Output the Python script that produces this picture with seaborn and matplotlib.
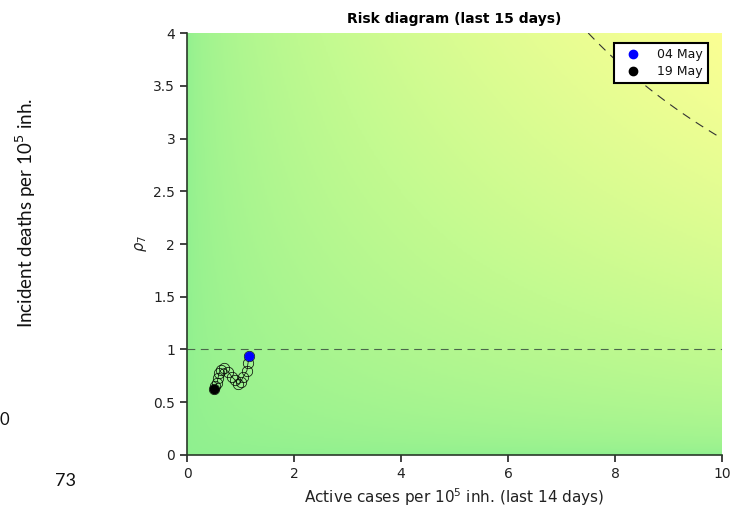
import matplotlib
matplotlib.use('Agg')
import matplotlib.pyplot as plt
import numpy as np
import pandas as pd
import seaborn as sns
from matplotlib.colors import LinearSegmentedColormap

# Trajectory over the last 15 days (04 May -> 19 May)
dates = pd.date_range('2020-05-04', '2020-05-19', freq='D')
active_cases = [1.16, 1.14, 1.12, 1.05, 1.00, 0.95, 0.90, 0.84, 0.77,
                0.70, 0.64, 0.60, 0.58, 0.56, 0.53, 0.50]
rho7 = [0.94, 0.87, 0.80, 0.74, 0.69, 0.67, 0.71, 0.74, 0.79,
        0.82, 0.81, 0.78, 0.73, 0.68, 0.65, 0.63]
risk_level = 30          # iso-risk curve: active * rho7 = 30
x_ticks = [0, 2, 4, 6, 8, 10]
y_ticks = [0, 0.5, 1, 1.5, 2, 2.5, 3, 3.5, 4]

df = pd.DataFrame({'date': dates, 'active': active_cases, 'rho7': rho7})

sns.set_style('ticks')
plt.rcParams['font.family'] = ['DejaVu Sans']
plt.rcParams['text.color'] = '#111111'

fig = plt.figure(figsize=(7.46, 5.11), dpi=100)
ax = fig.add_axes([0.2507, 0.1096, 0.7171, 0.8258])

# background risk gradient
cmap = LinearSegmentedColormap.from_list('risk', ['#8ff08f', '#c2fa90', '#fbff94'])
gx, gy = np.meshgrid(np.linspace(0, 10, 300), np.linspace(0, 4, 200))
ax.imshow(np.sqrt(np.clip(gx * gy / 40, 0, 1)), extent=[0, 10, 0, 4],
          origin='lower', aspect='auto', cmap=cmap, vmin=0, vmax=1, zorder=0)

# reference lines
ax.axhline(1, color='#4a664a', ls=(0, (7, 5)), lw=0.8, zorder=1)
cx = np.linspace(risk_level / 4, 10, 100)
ax.plot(cx, risk_level / cx, color='#333333', ls=(0, (8, 6)), lw=0.8, zorder=1)

# trajectory
sns.lineplot(data=df, x='active', y='rho7', sort=False, ax=ax, color='black',
             lw=0.5, marker='o', markersize=7.5, markerfacecolor='none',
             markeredgecolor='black', markeredgewidth=0.5, zorder=2)
first, last = df.iloc[0], df.iloc[-1]
ax.plot(first['active'], first['rho7'], 'o', color='blue', ms=6, zorder=3,
        label=first['date'].strftime('%d %b'))
ax.plot(last['active'], last['rho7'], 'o', color='black', ms=6, zorder=3,
        label=last['date'].strftime('%d %b'))

leg = ax.legend(loc='upper right', fontsize=9, frameon=True, fancybox=False,
                handletextpad=0.8, handlelength=2.2, borderpad=0.4,
                labelspacing=0.3, bbox_to_anchor=(0.985, 0.99))
leg.get_frame().set_edgecolor('black')
leg.get_frame().set_linewidth(1.5)
leg.get_frame().set_alpha(1)

ax.set_xlim(0, 10)
ax.set_ylim(0, 4)
ax.set_xticks(x_ticks)
ax.set_yticks(y_ticks)
ax.set_yticklabels([f'{t:g}' for t in y_ticks])
ax.tick_params(labelsize=10, length=5, width=1.2, color='#222222',
               labelcolor='#222222')
for side in ['top', 'right']:
    ax.spines[side].set_visible(False)
for side in ['left', 'bottom']:
    ax.spines[side].set_color('#2a3a2a')
    ax.spines[side].set_linewidth(1.2)

ax.set_title('Risk diagram (last 15 days)', fontsize=10, fontweight='bold',
             pad=7, color='black')
ax.set_xlabel(r'Active cases per $10^5$ inh. (last 14 days)', fontsize=11,
              color='#222222')
ax.set_ylabel(r'$\rho_7$', fontsize=10.5, labelpad=3, color='#222222')

# remnants of neighbouring panel
fig.text(0.034, 0.583, r'Incident deaths per 10$^5$ inh.', rotation=90,
         ha='center', va='center', fontsize=13.5, family=['Lato', 'DejaVu Sans'])
fig.text(0.0, 0.178, '0', ha='left', va='center', fontsize=12,
         family=['Lato', 'DejaVu Sans'])
fig.text(0.088, 0.059, '73', ha='center', va='center', fontsize=13,
         family=['Lato', 'DejaVu Sans'])

fig.savefig('out.png', dpi=100)
